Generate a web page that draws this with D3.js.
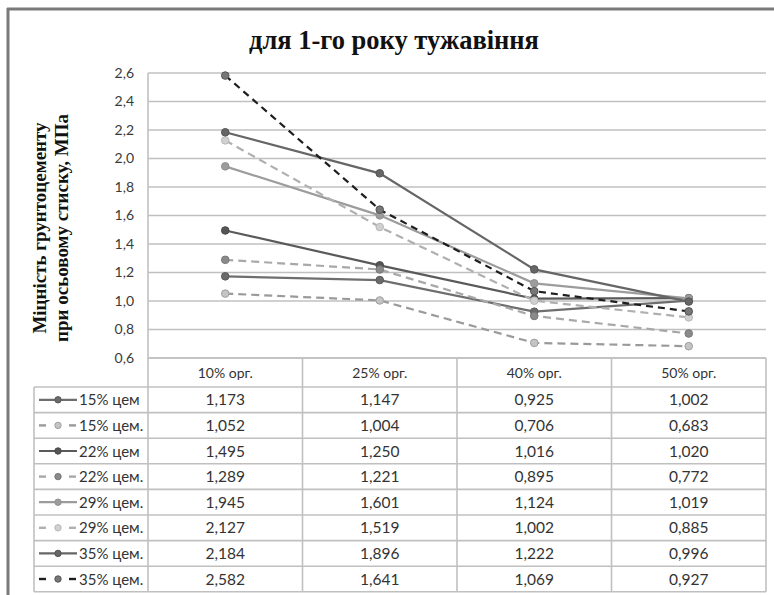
<!DOCTYPE html>
<html><head><meta charset="utf-8">
<script src="https://cdn.jsdelivr.net/npm/d3@7"></script>
<style>body{margin:0;background:#fff}svg{display:block}</style>
</head><body>
<svg id="c" width="774" height="595"></svg>
<script>
const categories = ["10% орг.", "25% орг.", "40% орг.", "50% орг."];
const seriesNames = ["15% цем", "15% цем.", "22% цем", "22% цем.", "29% цем.", "29% цем.", "35% цем.", "35% цем."];
const s15a = [1.173, 1.147, 0.925, 1.002];
const s15b = [1.052, 1.004, 0.706, 0.683];
const s22a = [1.495, 1.250, 1.016, 1.020];
const s22b = [1.289, 1.221, 0.895, 0.772];
const s29a = [1.945, 1.601, 1.124, 1.019];
const s29b = [2.127, 1.519, 1.002, 0.885];
const s35a = [2.184, 1.896, 1.222, 0.996];
const s35b = [2.582, 1.641, 1.069, 0.927];
const yTicks = [0.6, 0.8, 1.0, 1.2, 1.4, 1.6, 1.8, 2.0, 2.2, 2.4, 2.6];
const title = "для 1-го року тужавіння";
const yTitle = ["Міцність грунтоцементу", "при осьовому стиску, МПа"];

const values = [s15a, s15b, s22a, s22b, s29a, s29b, s35a, s35b];
const styles = [
  {stroke:"#6e6e6e", dash:null, fill:"#6a6a6a", mstroke:"#5a5a5a"},
  {stroke:"#9a9a9a", dash:"8,5", fill:"#c4c4c4", mstroke:"#a0a0a0"},
  {stroke:"#5a5a5a", dash:null, fill:"#555", mstroke:"#4a4a4a"},
  {stroke:"#a8a8a8", dash:"8,5", fill:"#8a8a8a", mstroke:"#777"},
  {stroke:"#9c9c9c", dash:null, fill:"#9c9c9c", mstroke:"#909090"},
  {stroke:"#b0b0b0", dash:"8,5", fill:"#d0d0d0", mstroke:"#b8b8b8"},
  {stroke:"#666", dash:null, fill:"#666", mstroke:"#555"},
  {stroke:"#1e1e1e", dash:"7,5", fill:"#777", mstroke:"#555"}
];

const svg = d3.select("#c");
const L = 148, R = 766, T = 73, B = 358;
const x = d3.scaleBand().domain(categories).range([L, R]);
const y = d3.scaleLinear().domain([0.6, 2.6]).range([B, T]);
const rowH = 25.6, headTop = 358, headBot = 387;
const gridC = "#c0c0c0";

// frame
svg.append("line").attr("x1",7).attr("x2",774).attr("y1",9).attr("y2",9).attr("stroke","#7a7a7a").attr("stroke-width",3);
svg.append("line").attr("x1",8).attr("x2",8).attr("y1",8).attr("y2",595).attr("stroke","#7a7a7a").attr("stroke-width",3);

// title
svg.append("text").attr("x",394).attr("y",49).attr("text-anchor","middle")
  .attr("font-family","Liberation Serif").attr("font-weight","bold").attr("font-size",26.5)
  .attr("fill","#111").text(title);

// y title
const yt = svg.append("text").attr("transform","translate(0,228) rotate(-90)")
  .attr("text-anchor","middle").attr("font-family","Liberation Serif").attr("font-weight","bold")
  .attr("font-size",19).attr("fill","#111");
yt.append("tspan").attr("x",0).attr("y",46).text(yTitle[0]);
yt.append("tspan").attr("x",0).attr("y",68).text(yTitle[1]);

// gridlines
svg.append("g").selectAll("line").data(yTicks).join("line")
  .attr("x1",L).attr("x2",R).attr("y1",d=>y(d)).attr("y2",d=>y(d))
  .attr("stroke",gridC).attr("stroke-width",1.6);
svg.append("line").attr("x1",L).attr("x2",L).attr("y1",T).attr("y2",B).attr("stroke",gridC).attr("stroke-width",1.6);

// y axis labels
const yAxis = d3.axisLeft(y).tickValues(yTicks).tickSize(0).tickPadding(14)
  .tickFormat(d=>d3.format(".1f")(d).replace(".",","));
const ga = svg.append("g").attr("transform",`translate(${L},0)`).call(yAxis);
ga.select(".domain").remove();
ga.selectAll("text").attr("font-family","Lato").attr("font-size",14).attr("fill","#3a3a3a");

// lines
const line = d3.line().x((d,i)=>x(categories[i])+x.bandwidth()/2).y(d=>y(d));
values.forEach((v,k)=>{
  const st = styles[k];
  svg.append("path").datum(v).attr("d",line).attr("fill","none")
    .attr("stroke",st.stroke).attr("stroke-width",2.2).attr("stroke-dasharray",st.dash);
  svg.append("g").selectAll("circle").data(v).join("circle")
    .attr("cx",(d,i)=>x(categories[i])+x.bandwidth()/2).attr("cy",d=>y(d)).attr("r",3.8)
    .attr("fill",st.fill).attr("stroke",st.mstroke).attr("stroke-width",1);
});

// table
const tbl = svg.append("g");
const legL = 34;
const tableBot = headBot + rowH*seriesNames.length;
tbl.append("line").attr("x1",L).attr("x2",R).attr("y1",headTop).attr("y2",headTop).attr("stroke",gridC).attr("stroke-width",1.6);
tbl.append("line").attr("x1",legL).attr("x2",R).attr("y1",headBot).attr("y2",headBot).attr("stroke",gridC).attr("stroke-width",1.6);
seriesNames.forEach((n,i)=>{
  tbl.append("line").attr("x1",legL).attr("x2",R).attr("y1",headBot+rowH*(i+1)).attr("y2",headBot+rowH*(i+1)).attr("stroke",gridC).attr("stroke-width",1.6);
});
tbl.append("line").attr("x1",legL).attr("x2",legL).attr("y1",headBot).attr("y2",tableBot).attr("stroke",gridC).attr("stroke-width",1.6);
[...categories.map(c=>x(c)), R].forEach(xx=>{
  tbl.append("line").attr("x1",xx).attr("x2",xx).attr("y1",headTop).attr("y2",tableBot).attr("stroke",gridC).attr("stroke-width",1.6);
});
categories.forEach(c=>{
  tbl.append("text").attr("x",x(c)+x.bandwidth()/2).attr("y",(headTop+headBot)/2+5).attr("text-anchor","middle")
    .attr("font-family","Lato").attr("font-size",14).attr("fill","#333").text(c);
});
values.forEach((v,k)=>{
  const cy = headBot + rowH*k + rowH/2;
  v.forEach((d,i)=>{
    tbl.append("text").attr("x",x(categories[i])+x.bandwidth()/2).attr("y",cy+5.5).attr("text-anchor","middle")
      .attr("font-family","Lato").attr("font-size",15.5).attr("fill","#333").text(d3.format(".3f")(d).replace(".",","));
  });
  const st = styles[k];
  if (st.dash) {
    [[39,46],[69,76]].forEach(([a,b])=>{
      tbl.append("line").attr("x1",a).attr("x2",b).attr("y1",cy).attr("y2",cy)
        .attr("stroke",st.stroke).attr("stroke-width",2.4);
    });
  } else {
    tbl.append("line").attr("x1",39).attr("x2",77).attr("y1",cy).attr("y2",cy)
      .attr("stroke",st.stroke).attr("stroke-width",2.2);
  }
  tbl.append("circle").attr("cx",58).attr("cy",cy).attr("r",3.2).attr("fill",st.fill).attr("stroke",st.mstroke).attr("stroke-width",1);
  tbl.append("text").attr("x",79).attr("y",cy+5.5).attr("font-family","Lato").attr("font-size",15).attr("fill","#333").text(seriesNames[k]);
});
</script>
</body></html>
